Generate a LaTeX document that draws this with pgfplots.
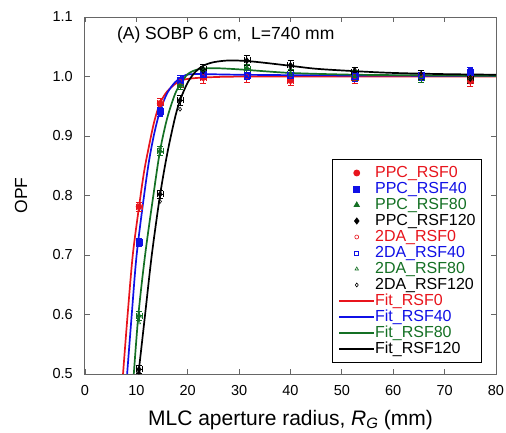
\documentclass[border=0pt]{standalone}
\usepackage{pgfplots}
\usepackage{pgfplotstable}
\pgfplotsset{compat=1.18}
\usepackage{fontspec}
\setmainfont{Liberation Sans}
\definecolor{cR}{RGB}{232,20,28}
\definecolor{cB}{RGB}{16,16,230}
\definecolor{cG}{RGB}{20,112,36}
\definecolor{cK}{RGB}{0,0,0}

\pgfplotstableread{
x y ex ey
10.5 0.781 0.6 0.008
14.6 0.955 0.6 0.008
18.5 0.990 0.6 0.008
23 0.998 0.6 0.010
31.5 1.001 0.6 0.010
40 0.993 0.6 0.008
52.5 0.998 0.6 0.010
65.4 1.000 0.6 0.010
75 0.992 0.6 0.008
}\tRppc
\pgfplotstableread{
x y ex ey
10.5 0.722 0.6 0.007
14.6 0.941 0.6 0.008
18.5 0.994 0.6 0.008
23 1.004 0.6 0.008
31.5 1.003 0.6 0.008
40 1.002 0.6 0.008
52.5 1.000 0.6 0.008
65.4 1.002 0.6 0.008
75 1.007 0.6 0.008
}\tBppc
\pgfplotstableread{
x y ex ey
10.5 0.598 0.6 0.008
14.6 0.875 0.6 0.008
18.5 0.986 0.6 0.008
23 1.012 0.6 0.008
31.5 1.013 0.6 0.008
40 1.005 0.6 0.008
52.5 1.002 0.6 0.008
65.4 0.998 0.6 0.008
75 0.998 0.6 0.008
}\tGppc
\pgfplotstableread{
x y ex ey
10.5 0.508 0.6 0.006
14.6 0.802 0.6 0.007
18.5 0.960 0.6 0.008
23 1.012 0.6 0.008
31.5 1.027 0.6 0.008
40 1.019 0.6 0.008
52.5 1.008 0.6 0.008
65.4 1.003 0.6 0.008
75 0.997 0.6 0.008
}\tKppc
\pgfplotstableread{
x y
10.5 0.785
14.6 0.952
18.5 0.992
23 1.000
31.5 1.000
40 0.995
52.5 1.000
65.4 1.003
75 0.995
}\tRtda
\pgfplotstableread{
x y
10.5 0.725
14.6 0.938
18.5 0.993
23 1.002
31.5 1.002
40 1.000
52.5 1.002
65.4 1.000
75 1.010
}\tBtda
\pgfplotstableread{
x y
10.5 0.586
14.6 0.880
18.5 0.983
23 1.010
31.5 1.016
40 1.003
52.5 1.000
65.4 1.000
75 0.996
}\tGtda
\pgfplotstableread{
x y
10.5 0.503
14.6 0.790
18.5 0.945
23 1.008
31.5 1.025
40 1.015
52.5 1.012
65.4 1.005
75 0.995
}\tKtda

\pgfplotsset{
  linelegend/.style={legend image code/.code={\draw[##1] (0pt,0pt) -- (35pt,0pt);}},
  marklegend/.style={legend image code/.code={\path[draw=none,fill=none] (0pt,0pt) -- (35pt,0pt);\draw[##1] plot[only marks] coordinates {(17.5pt,0pt)};}},
  fitline/.style={line width=1.7pt, smooth, tension=0.5},
  ppc/.style={only marks, mark size=3pt, marklegend,
    error bars/x dir=both, error bars/x explicit, error bars/y dir=both, error bars/y explicit,
    error bars/error bar style={line width=0.7pt}},
  tda/.style={only marks, mark size=2pt, mark options={line width=0.6pt, fill=white}, marklegend},
}

\begin{document}
\begin{tikzpicture}
\path[use as bounding box] (-85pt,-58pt) rectangle (421pt,374pt);
\begin{axis}[
  at={(0,0)}, anchor=south west, scale only axis,
  width=411pt, height=357pt,
  xmin=0, xmax=80, ymin=0.5, ymax=1.1,
  xtick={0,10,20,30,40,50,60,70,80},
  ytick={0.5,0.6,0.7,0.8,0.9,1.0,1.1},
  tick align=inside, tick pos=both, major tick length=5pt,
  axis line style={draw=black!60, line width=1pt},
  tick style={draw=black!60, line width=0.8pt},
  /pgf/number format/assume math mode=true,
  ticklabel style={font=\fontsize{14.5}{16}\selectfont},
  y tick label style={/pgf/number format/fixed, /pgf/number format/fixed zerofill, /pgf/number format/precision=1},
  xticklabel style={anchor=north, inner sep=0pt, yshift=-11pt},
  yticklabel style={anchor=east, inner sep=0pt, xshift=-12pt},
  xlabel={MLC aperture radius, \textit{R}\raisebox{-0.35ex}{\fontsize{15}{16}\selectfont\textit{G}} (mm)},
  xlabel style={at={(axis description cs:0.5,-0.1429)}, anchor=base, inner sep=0pt, font=\fontsize{21}{24}\selectfont},
  ylabel={OPF},
  ylabel style={at={(axis description cs:-0.1411,0.5)}, anchor=base, rotate=0, inner sep=0pt, font=\fontsize{17.5}{20}\selectfont},
  legend style={at={(0.601,0.602)}, anchor=north west, draw=black, line width=0.8pt, fill=white,
    inner xsep=6pt, inner ysep=5.5pt, font=\fontsize{16}{18}\selectfont,
    nodes={inner sep=0pt, text height=12.5pt, text depth=3.5pt},
    cells={anchor=west}, row sep=0pt,
    /tikz/every even column/.append style={column sep=2pt}},
]
% fits (drawn first, listed in legend below)
\addplot[cR, fitline, forget plot] coordinates {(7.4,0.5) (8.3,0.6) (9.3,0.7) (10.5,0.78) (11.5,0.84) (12.5,0.885) (13.5,0.925) (14.6,0.955) (16,0.975) (18,0.99) (20,0.996) (25,0.999) (35,1.0) (80,1.0)};
\addplot[cB, fitline, forget plot] coordinates {(8.2,0.5) (9.1,0.6) (10.05,0.7) (11.5,0.8) (12.5,0.86) (13.5,0.905) (14.6,0.942) (16,0.972) (17.5,0.99) (19,1.0) (21,1.004) (30,1.003) (45,1.002) (80,1.001)};
\addplot[cG, fitline, forget plot] coordinates {(9.5,0.5) (10.4,0.6) (11.7,0.7) (13.3,0.8) (14.6,0.875) (16,0.93) (17.5,0.97) (18.5,0.986) (20,1.004) (22,1.012) (25,1.014) (30,1.012) (40,1.006) (52.5,1.003) (65,1.002) (80,1.001)};
\addplot[cK, fitline, forget plot] coordinates {(10.4,0.5) (11.7,0.6) (13.0,0.7) (14.6,0.8) (16,0.87) (17.5,0.93) (18.5,0.96) (20,0.99) (21.5,1.008) (23,1.018) (25,1.024) (28,1.027) (31.5,1.026) (35,1.023) (40,1.018) (45,1.013) (52.5,1.009) (60,1.006) (70,1.004) (80,1.003)};
% PPC
\addplot[cR, ppc, mark=*] table[x=x, y=y, x error=ex, y error=ey] {\tRppc};
\addlegendentry{\textcolor{cR}{PPC\_RSF0}}
\addplot[cB, ppc, mark=square*] table[x=x, y=y, x error=ex, y error=ey] {\tBppc};
\addlegendentry{\textcolor{cB}{PPC\_RSF40}}
\addplot[cG, ppc, mark=triangle*] table[x=x, y=y, x error=ex, y error=ey] {\tGppc};
\addlegendentry{\textcolor{cG}{PPC\_RSF80}}
\addplot[cK, ppc, mark=diamond*] table[x=x, y=y, x error=ex, y error=ey] {\tKppc};
\addlegendentry{\textcolor{cK}{PPC\_RSF120}}
% 2DA
\addplot[cR, tda, mark=o] table[x=x, y=y] {\tRtda};
\addlegendentry{\textcolor{cR}{2DA\_RSF0}}
\addplot[cB, tda, mark=square] table[x=x, y=y] {\tBtda};
\addlegendentry{\textcolor{cB}{2DA\_RSF40}}
\addplot[cG, tda, mark=triangle] table[x=x, y=y] {\tGtda};
\addlegendentry{\textcolor{cG}{2DA\_RSF80}}
\addplot[cK, tda, mark=diamond] table[x=x, y=y] {\tKtda};
\addlegendentry{\textcolor{cK}{2DA\_RSF120}}
\addlegendimage{cR, fitline, linelegend}
\addlegendentry{\textcolor{cR}{Fit\_RSF0}}
\addlegendimage{cB, fitline, linelegend}
\addlegendentry{\textcolor{cB}{Fit\_RSF40}}
\addlegendimage{cG, fitline, linelegend}
\addlegendentry{\textcolor{cG}{Fit\_RSF80}}
\addlegendimage{cK, fitline, linelegend}
\addlegendentry{\textcolor{cK}{Fit\_RSF120}}
\node[anchor=base west, inner sep=0pt, font=\fontsize{17.5}{20}\selectfont] at (axis cs:6.2,1.063) {(A) SOBP 6 cm,\ \ L=740 mm};
\end{axis}
\end{tikzpicture}
\end{document}
